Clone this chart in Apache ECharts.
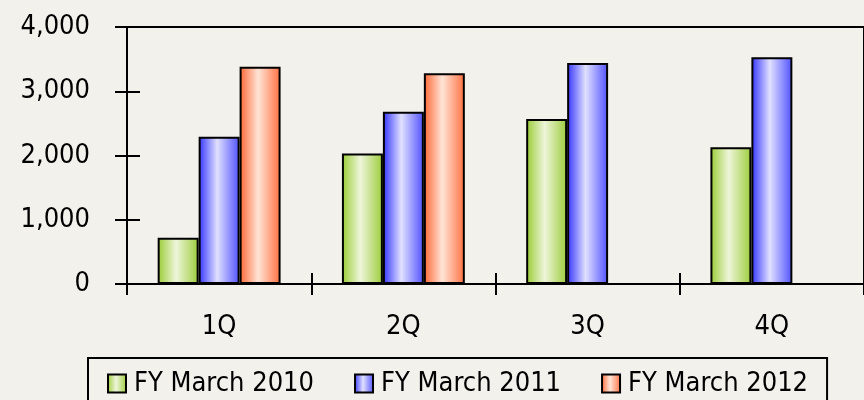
<!DOCTYPE html>
<html>
<head>
<meta charset="utf-8">
<script src="https://cdn.jsdelivr.net/npm/echarts@6/dist/echarts.min.js"></script>
<style>
  html, body { margin: 0; padding: 0; background: #f3f1ec; }
  #main { width: 864px; height: 400px; }
</style>
</head>
<body>
<div id="main"></div>
<script>
var quarters = ['1Q', '2Q', '3Q', '4Q'];
var fy2010 = [720, 2030, 2570, 2130];
var fy2011 = [2290, 2680, 3440, 3530];
var fy2012 = [3380, 3280, null, null];
var seriesNames = ['FY March 2010', 'FY March 2011', 'FY March 2012'];

var fontStack = "'DejaVu Sans Condensed', 'Liberation Sans Narrow', sans-serif";

// horizontal shading like the original bars
function shade(edge, light, edge2) {
    return new echarts.graphic.LinearGradient(0, 0, 1, 0, [
        { offset: 0, color: edge },
        { offset: 0.45, color: light },
        { offset: 1, color: edge2 }
    ]);
}

var chart = echarts.init(document.getElementById('main'));
var option = {
    backgroundColor: '#f3f1ec',
    animation: false,
    textStyle: { fontFamily: fontStack },
    grid: {
        left: 127, top: 27, bottom: 116, right: -17,
        show: true, borderColor: '#000', borderWidth: 2,
        backgroundColor: 'transparent'
    },
    legend: {
        left: 88, top: 358,
        padding: [12, 19, 12, 19],
        borderColor: '#000', borderWidth: 2,
        itemWidth: 18, itemHeight: 18, itemGap: 40,
        icon: 'rect',
        textStyle: { fontSize: 27, color: '#000', fontFamily: fontStack, padding: [0, 0, 0, 3] },
        data: seriesNames
    },
    xAxis: [
        {
            type: 'category', data: quarters, position: 'bottom',
            axisLine: { lineStyle: { color: '#000', width: 2 } },
            axisTick: { show: true, length: 11, lineStyle: { color: '#000', width: 2 } },
            axisLabel: { color: '#000', fontSize: 27, margin: 29, fontFamily: fontStack }
        },
        {
            type: 'category', data: quarters, position: 'bottom',
            axisLine: { show: false },
            axisTick: { show: true, inside: true, length: 11, lineStyle: { color: '#000', width: 2 } },
            axisLabel: { show: false }
        }
    ],
    yAxis: [
        {
            type: 'value', min: 0, max: 4000, interval: 1000,
            axisLine: { show: true, lineStyle: { color: '#000', width: 2 } },
            axisTick: { show: true, length: 12, lineStyle: { color: '#000', width: 2 } },
            splitLine: { show: false },
            axisLabel: {
                color: '#000', fontSize: 27, margin: 37, fontFamily: fontStack,
                formatter: function (v) { return v.toLocaleString('en-US'); }
            }
        },
        {
            type: 'value', min: 0, max: 4000, interval: 1000, position: 'left', offset: 0,
            axisLine: { show: true, lineStyle: { color: '#000', width: 2 } },
            axisTick: { show: true, inside: true, length: 13, lineStyle: { color: '#000', width: 2 } },
            splitLine: { show: false },
            axisLabel: { show: false }
        }
    ],
    series: [
        {
            name: seriesNames[0], type: 'bar', data: fy2010,
            barGap: '0%', barCategoryGap: '33.3%',
            itemStyle: { color: shade('#99cc33', '#eef5da', '#9ccc3a'), borderColor: '#000', borderWidth: 2 }
        },
        {
            name: seriesNames[1], type: 'bar', data: fy2011,
            barGap: '0%', barCategoryGap: '33.3%',
            itemStyle: { color: shade('#3333ff', '#e0e0ff', '#5050ff'), borderColor: '#000', borderWidth: 2 }
        },
        {
            name: seriesNames[2], type: 'bar', data: fy2012,
            barGap: '0%', barCategoryGap: '33.3%',
            itemStyle: { color: shade('#ff6633', '#ffe4d6', '#ff7040'), borderColor: '#000', borderWidth: 2 }
        },
        // empty helper so the second y axis (inner ticks) is drawn
        { type: 'line', yAxisIndex: 1, data: [], silent: true }
    ]
};
chart.setOption(option);
</script>
</body>
</html>
